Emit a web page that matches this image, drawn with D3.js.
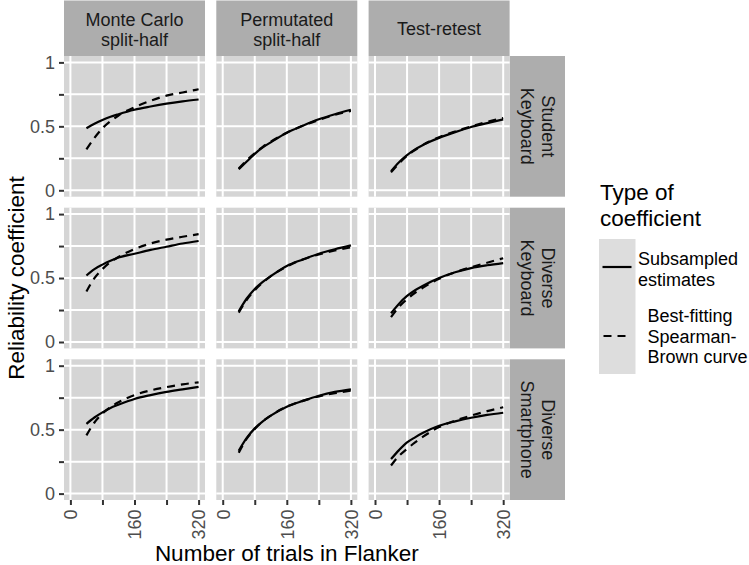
<!DOCTYPE html>
<html>
<head>
<meta charset="utf-8">
<script src="https://cdn.jsdelivr.net/npm/d3@7"></script>
<style>
  html, body { margin: 0; padding: 0; background: #fff; }
  svg { display: block; font-family: "Liberation Sans", Arial, Helvetica, sans-serif; }
</style>
</head>
<body>
<svg id="chart" width="749" height="565"></svg>
<script>
// ---------- data ----------
const trials = [40, 60, 80, 100, 120, 160, 200, 240, 280, 320];

const methodLabels = [["Monte Carlo", "split-half"], ["Permutated", "split-half"], ["Test-retest"]];
const sampleLabels = [["Student", "Keyboard"], ["Diverse", "Keyboard"], ["Diverse", "Smartphone"]];

const xTicks = [0, 80, 160, 240, 320];
const xTickLabels = ["0", "", "160", "", "320"];
const yTicks = [0, 0.25, 0.5, 0.75, 1];
const yTickLabels = ["0", "", "0.5", "", "1"];

const legendLabels = [["Subsampled", "estimates"], ["Best-fitting", "Spearman-", "Brown curve"]];

// Monte Carlo split-half
const mcStudentObs = [0.485, 0.52, 0.55, 0.575, 0.595, 0.63, 0.655, 0.677, 0.695, 0.71];
const mcStudentSB  = [0.32, 0.41, 0.485, 0.54, 0.585, 0.65, 0.70, 0.74, 0.765, 0.79];
const mcKeyObs     = [0.52, 0.57, 0.605, 0.635, 0.66, 0.69, 0.72, 0.745, 0.77, 0.79];
const mcKeySB      = [0.395, 0.50, 0.57, 0.625, 0.665, 0.727, 0.77, 0.80, 0.823, 0.843];
const mcPhoneObs   = [0.545, 0.595, 0.635, 0.67, 0.695, 0.74, 0.77, 0.795, 0.815, 0.835];
const mcPhoneSB    = [0.455, 0.556, 0.625, 0.676, 0.714, 0.77, 0.807, 0.833, 0.854, 0.87];
// Permutated split-half
const psStudentObs = [0.165, 0.225, 0.285, 0.335, 0.375, 0.45, 0.505, 0.555, 0.595, 0.63];
const psStudentSB  = [0.17, 0.235, 0.29, 0.34, 0.38, 0.45, 0.505, 0.55, 0.59, 0.62];
const psKeyObs     = [0.24, 0.34, 0.415, 0.47, 0.515, 0.595, 0.645, 0.69, 0.725, 0.755];
const psKeySB      = [0.23, 0.33, 0.405, 0.465, 0.515, 0.59, 0.645, 0.685, 0.715, 0.74];
const psPhoneObs   = [0.335, 0.435, 0.51, 0.565, 0.61, 0.68, 0.725, 0.765, 0.795, 0.815];
const psPhoneSB    = [0.32, 0.43, 0.505, 0.565, 0.61, 0.68, 0.725, 0.76, 0.785, 0.805];
// Test-retest
const trStudentObs = [0.15, 0.22, 0.275, 0.32, 0.355, 0.41, 0.455, 0.495, 0.525, 0.555];
const trStudentSB  = [0.14, 0.21, 0.27, 0.315, 0.355, 0.415, 0.46, 0.5, 0.535, 0.565];
const trKeyObs     = [0.225, 0.3, 0.36, 0.405, 0.44, 0.5, 0.545, 0.578, 0.6, 0.617];
const trKeySB      = [0.195, 0.275, 0.335, 0.385, 0.425, 0.495, 0.545, 0.585, 0.62, 0.655];
const trPhoneObs   = [0.27, 0.34, 0.40, 0.44, 0.475, 0.53, 0.565, 0.593, 0.615, 0.632];
const trPhoneSB    = [0.22, 0.295, 0.35, 0.40, 0.445, 0.52, 0.57, 0.61, 0.645, 0.675];

// panel table [row][col] -> [observed, spearman-brown]
const panels = [
  [[mcStudentObs, mcStudentSB], [psStudentObs, psStudentSB], [trStudentObs, trStudentSB]],
  [[mcKeyObs, mcKeySB],         [psKeyObs, psKeySB],         [trKeyObs, trKeySB]],
  [[mcPhoneObs, mcPhoneSB],     [psPhoneObs, psPhoneSB],     [trPhoneObs, trPhoneSB]]
];

// ---------- layout ----------
const svg = d3.select("#chart");
const colX = [64, 216.3, 368.6];
const rowY = [56, 207.7, 359.3];
const pw = 141, ph = 140.7;
const stripTop = 0.5, stripH = 55.5;
const rStripW = 55.4;
const LH = 20.5;

const COL_PANEL = "#D5D5D5", COL_STRIP = "#ADADAD", COL_KEY = "#DDDDDD";
const TXT = "#1A1A1A", TICKTXT = "#4D4D4D", TICK = "#333333";

const x = d3.scaleLinear().domain([-16, 336]).range([0, pw]);
const y = d3.scaleLinear().domain([-0.05, 1.05]).range([ph, 0]);
const line = d3.line().x((d, i) => x(trials[i])).y(d => y(d)).curve(d3.curveMonotoneX);

// multi-line text helper: one <text> with one <tspan> per line
function multiText(sel, lines, xPos, lh) {
  lines.forEach((t, i) => {
    sel.append("tspan").attr("x", xPos).attr("dy", i === 0 ? 0 : lh).text(t);
  });
  return sel;
}

// top strips
methodLabels.forEach((lab, c) => {
  const g = svg.append("g").attr("transform", `translate(${colX[c]},${stripTop})`);
  g.append("rect").attr("width", pw).attr("height", stripH).attr("fill", COL_STRIP);
  const base0 = lab.length === 1 ? 34.5 : 25;
  const t = g.append("text").attr("y", base0)
    .attr("text-anchor", "middle").attr("font-size", 18).attr("fill", TXT);
  multiText(t, lab, pw / 2, LH);
});

// right strips (text rotated 90deg, first line on the right)
sampleLabels.forEach((lab, r) => {
  const sx = colX[2] + pw;
  const g = svg.append("g").attr("transform", `translate(${sx},${rowY[r]})`);
  g.append("rect").attr("width", rStripW).attr("height", ph).attr("fill", COL_STRIP);
  const t = g.append("text")
    .attr("transform", `translate(32,${ph / 2}) rotate(90)`)
    .attr("text-anchor", "middle").attr("font-size", 18).attr("fill", TXT);
  multiText(t, lab, 0, LH);
});

// panels
for (let r = 0; r < 3; r++) {
  for (let c = 0; c < 3; c++) {
    const g = svg.append("g").attr("transform", `translate(${colX[c]},${rowY[r]})`);
    g.append("rect").attr("width", pw).attr("height", ph).attr("fill", COL_PANEL);
    g.selectAll(".vg").data(xTicks).join("line")
      .attr("x1", d => x(d)).attr("x2", d => x(d)).attr("y1", 0).attr("y2", ph)
      .attr("stroke", "#fff").attr("stroke-width", 2);
    g.selectAll(".hg").data(yTicks).join("line")
      .attr("y1", d => y(d)).attr("y2", d => y(d)).attr("x1", 0).attr("x2", pw)
      .attr("stroke", "#fff").attr("stroke-width", 2);
    const [obs, sb] = panels[r][c];
    g.append("path").datum(obs).attr("d", line).attr("fill", "none")
      .attr("stroke", "#000").attr("stroke-width", 2.2);
    g.append("path").datum(sb).attr("d", line).attr("fill", "none")
      .attr("stroke", "#000").attr("stroke-width", 2.2).attr("stroke-dasharray", "8,6");

    // y axis on first column
    if (c === 0) {
      const ya = d3.axisLeft(y).tickValues(yTicks).tickFormat((d, i) => yTickLabels[i])
        .tickSize(5).tickPadding(4);
      const ag = g.append("g").call(ya);
      ag.select(".domain").remove();
      ag.selectAll(".tick line").attr("stroke", TICK).attr("stroke-width", 2);
      ag.selectAll(".tick text").attr("font-size", 18).attr("fill", TICKTXT)
        .attr("font-family", "Liberation Sans, Arial, sans-serif");
    }
    // x axis on bottom row
    if (r === 2) {
      const xa = d3.axisBottom(x).tickValues(xTicks).tickFormat((d, i) => xTickLabels[i])
        .tickSize(5).tickPadding(4);
      const ag = g.append("g").attr("transform", `translate(0,${ph})`).call(xa);
      ag.select(".domain").remove();
      ag.selectAll(".tick line").attr("stroke", TICK).attr("stroke-width", 2);
      ag.selectAll(".tick text").attr("font-size", 18).attr("fill", TICKTXT)
        .attr("font-family", "Liberation Sans, Arial, sans-serif")
        .attr("transform", "rotate(-90)")
        .attr("text-anchor", "end")
        .attr("x", -9.5).attr("y", 0).attr("dy", "0.35em");
    }
  }
}

// axis titles
svg.append("text").attr("x", (colX[0] + colX[2] + pw) / 2).attr("y", 561)
  .attr("text-anchor", "middle").attr("font-size", 22.5).attr("fill", "#000")
  .text("Number of trials in Flanker");
svg.append("text").attr("transform", `translate(24,${(rowY[0] + rowY[2] + ph) / 2}) rotate(-90)`)
  .attr("text-anchor", "middle").attr("font-size", 22.5).attr("fill", "#000")
  .text("Reliability coefficient");

// legend
const lg = svg.append("g");
const lt = lg.append("text").attr("y", 200).attr("font-size", 22.5).attr("fill", "#000");
multiText(lt, ["Type of", "coefficient"], 600, 25.5);
lg.append("rect").attr("x", 599).attr("y", 239).attr("width", 36.5).attr("height", 135).attr("fill", COL_KEY);
const keyY = [267, 336];
const keyDash = [null, "8,6"];
keyY.forEach((ky, i) => {
  const l = lg.append("line").attr("x1", 602.5).attr("x2", 631.5).attr("y1", ky).attr("y2", ky)
    .attr("stroke", "#000").attr("stroke-width", 2.2);
  if (keyDash[i]) l.attr("stroke-dasharray", keyDash[i]).attr("stroke-dashoffset", -1);
});
const labX = [638, 647.5];
const labBase = [265, 322];
legendLabels.forEach((lab, i) => {
  const t = lg.append("text").attr("y", labBase[i]).attr("font-size", 18).attr("fill", "#000");
  multiText(t, lab, labX[i], LH);
});
</script>
</body>
</html>
